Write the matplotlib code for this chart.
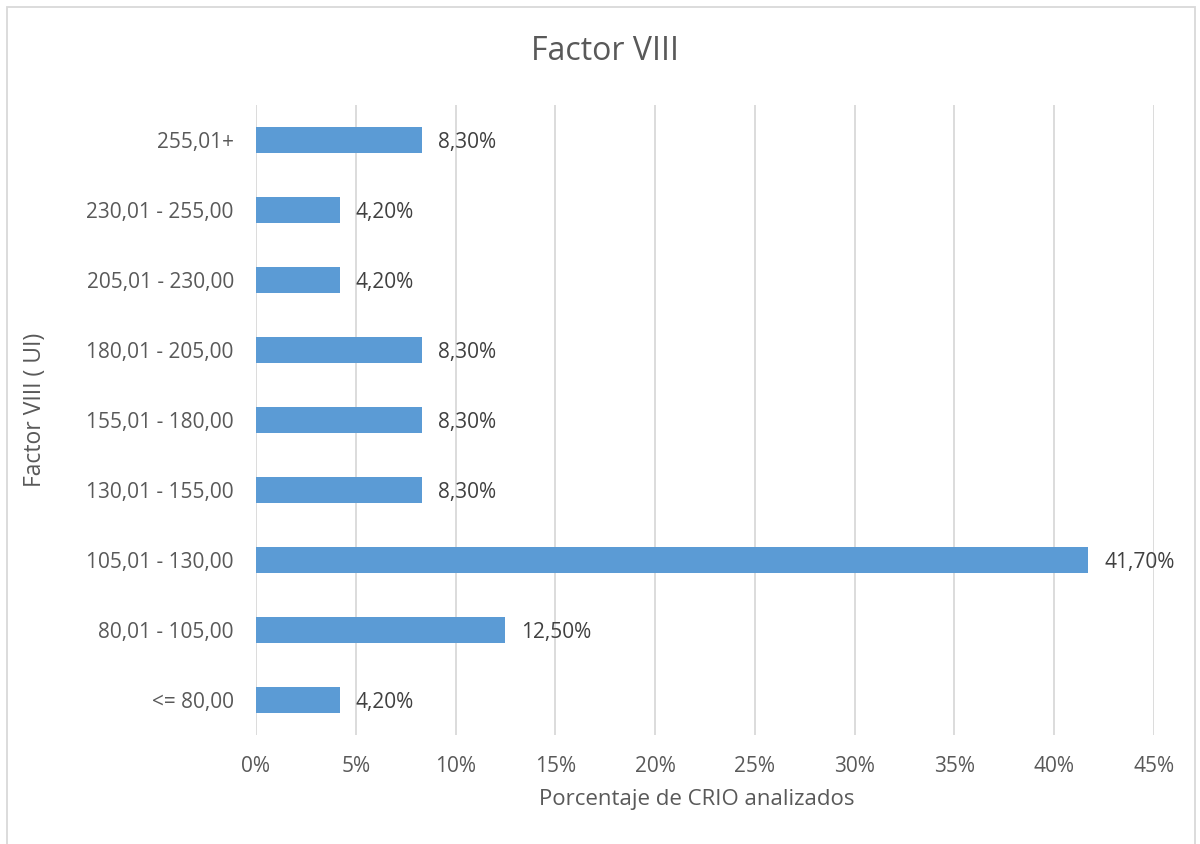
import matplotlib.pyplot as plt
from matplotlib.patches import Rectangle
from matplotlib.ticker import FuncFormatter

### DATA ------------------------
categories = ['<= 80,00', '80,01 - 105,00', '105,01 - 130,00', '130,01 - 155,00',
              '155,01 - 180,00', '180,01 - 205,00', '205,01 - 230,00',
              '230,01 - 255,00', '255,01+']
values = [4.2, 12.5, 41.7, 8.3, 8.3, 8.3, 4.2, 4.2, 8.3]
x_ticks = [0, 5, 10, 15, 20, 25, 30, 35, 40, 45]

### STYLE ------------------------
plt.rcParams['font.family'] = ['Open Sans', 'DejaVu Sans']
text_color = '#595959'
bar_color = '#5B9BD5'
grid_color = '#D9D9D9'

fig = plt.figure(figsize=(12, 8.44), dpi=100)
ax = fig.add_axes([256 / 1200, 1 - 735 / 844, (1154 - 256) / 1200, 630 / 844])

# Bars + labels
y = range(len(categories))
ax.barh(y, values, height=0.36, color=bar_color, zorder=3)
for yi, v in zip(y, values):
    ax.text(v + 0.8, yi, f"{v:.2f}%".replace('.', ','), va='center_baseline', ha='left',
            fontsize=15, color='#404040')

ax.set_xlim(0, 45)
ax.set_ylim(-0.5, len(categories) - 0.5)
ax.set_xticks(x_ticks)
ax.xaxis.set_major_formatter(FuncFormatter(lambda v, p: f"{v:.0f}%"))
ax.set_yticks(list(y))
ax.set_yticklabels(categories)
ax.tick_params(axis='both', length=0, labelsize=15, labelcolor=text_color)
ax.tick_params(axis='x', pad=15)
ax.tick_params(axis='y', pad=16)
ax.grid(axis='x', color=grid_color, linewidth=1.3, zorder=0)
for s in ax.spines.values():
    s.set_visible(False)

# Titles
fig.text(605 / 1200, 1 - 52 / 844, 'Factor VIII', ha='center', va='center',
         fontsize=23, color=text_color)
fig.text(697 / 1200, 1 - 800 / 844, 'Porcentaje de CRIO analizados', ha='center',
         va='center', fontsize=16, color=text_color)
fig.text(35 / 1200, 1 - 410 / 844, 'Factor VIII ( UI)', ha='center', va='center',
         rotation=90, fontsize=16.5, color=text_color)

# Chart border
fig.patches.append(Rectangle((7 / 1200, -0.05), 1188 / 1200, 1 - 7 / 844 + 0.05,
                             transform=fig.transFigure, fill=False,
                             edgecolor=grid_color, linewidth=1.3))

fig.savefig('out.png', dpi=100, facecolor='white')
